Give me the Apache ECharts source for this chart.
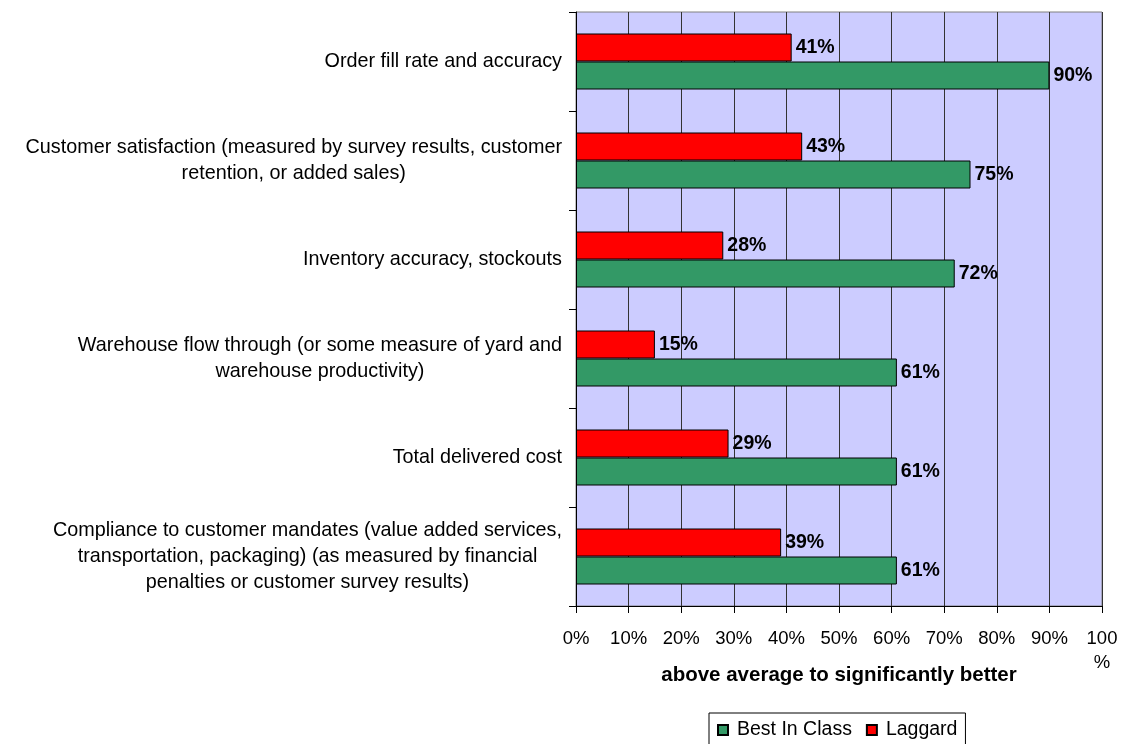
<!DOCTYPE html>
<html>
<head>
<meta charset="utf-8">
<style>
  html, body { margin: 0; padding: 0; background: #ffffff; }
  #chart { width: 1122px; height: 744px; }
</style>
<script src="https://cdn.jsdelivr.net/npm/echarts@6/dist/echarts.min.js"></script>
</head>
<body>
<div id="chart"></div>
<script>
// Performance metrics, listed top to bottom
const categories = [
  'Order fill rate and accuracy',
  'Customer satisfaction (measured by survey results, customer\nretention, or added sales)',
  'Inventory accuracy, stockouts',
  'Warehouse flow through (or some measure of yard and\nwarehouse productivity)',
  'Total delivered cost',
  'Compliance to customer mandates (value added services,\ntransportation, packaging) (as measured by financial\npenalties or customer survey results)'
];

// Share of respondents rating above average to significantly better (%)
const laggard = [41, 43, 28, 15, 29, 39];
const bestInClass = [90, 75, 72, 61, 61, 61];

const xTicks = [0, 10, 20, 30, 40, 50, 60, 70, 80, 90, 100];
const xAxisTitle = 'above average to significantly better';

const FONT = '"Liberation Sans", Arial, sans-serif';

const chart = echarts.init(document.getElementById('chart'), null, { renderer: 'canvas' });

chart.setOption({
  animation: false,
  textStyle: { fontFamily: FONT, color: '#000' },
  grid: {
    left: 576, right: 20, top: 12, bottom: 138,
    show: true,
    backgroundColor: '#CCCCFF',
    borderColor: '#808080',
    borderWidth: 1,
    containLabel: false
  },
  legend: {
    data: ['Best In Class', 'Laggard'],
    left: 709,
    top: 713,
    orient: 'horizontal',
    padding: [7, 8, 8, 8],
    borderColor: '#000',
    borderWidth: 1,
    itemWidth: 10,
    itemHeight: 10,
    itemGap: 14,
    icon: 'rect',
    textStyle: { fontFamily: FONT, fontSize: 19.5, color: '#000', padding: [0, 0, 0, 4] }
  },
  xAxis: {
    type: 'value',
    min: xTicks[0],
    max: xTicks[xTicks.length - 1],
    interval: 10,
    name: xAxisTitle,
    nameLocation: 'middle',
    nameGap: 59,
    nameMoveOverlap: false,
    nameTextStyle: { fontFamily: FONT, fontSize: 20.5, fontWeight: 'bold', color: '#000' },
    axisLine: { show: true, lineStyle: { color: '#000', width: 1 } },
    axisTick: { show: true, length: 7, lineStyle: { color: '#000' } },
    axisLabel: {
      margin: 21,
      fontFamily: FONT,
      fontSize: 18.5,
      color: '#000',
      lineHeight: 24,
      formatter: v => (v === 100 ? '100\n%' : v + '%')
    },
    splitLine: { show: true, lineStyle: { color: '#333', width: 1 } }
  },
  yAxis: {
    type: 'category',
    data: categories,
    inverse: true,
    axisLine: { show: true, lineStyle: { color: '#000', width: 1 } },
    axisTick: { show: true, length: 7, lineStyle: { color: '#000' } },
    axisLabel: {
      interval: 0,
      margin: 14,
      align: 'right',
      formatter: v => v.split('\n').map(l => '{c|' + l + '}').join('\n'),
      rich: {
        c: { align: 'center', fontFamily: FONT, fontSize: 19.8, lineHeight: 26, color: '#000' }
      }
    },
    splitLine: { show: false }
  },
  series: [
    {
      name: 'Laggard',
      type: 'bar',
      data: laggard,
      barWidth: 28,
      barGap: '0%',
      itemStyle: { color: '#FF0000', borderColor: '#000', borderWidth: 1 },
      label: {
        show: true, position: 'right', distance: 4,
        fontFamily: FONT, fontSize: 19.5, fontWeight: 'bold', color: '#000',
        formatter: p => p.value + '%'
      }
    },
    {
      name: 'Best In Class',
      type: 'bar',
      data: bestInClass,
      barWidth: 28,
      barGap: '0%',
      itemStyle: { color: '#339966', borderColor: '#000', borderWidth: 1 },
      label: {
        show: true, position: 'right', distance: 4,
        fontFamily: FONT, fontSize: 19.5, fontWeight: 'bold', color: '#000',
        formatter: p => p.value + '%'
      }
    }
  ]
});
</script>
</body>
</html>
